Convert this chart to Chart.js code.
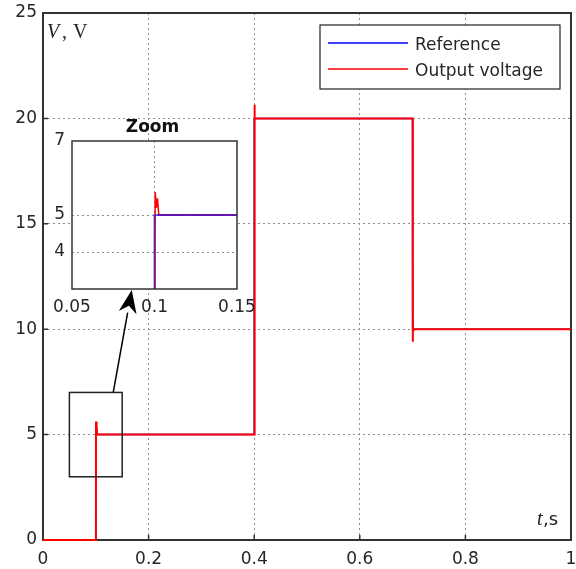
<!DOCTYPE html>
<html><head><meta charset="utf-8">
<script src="https://cdn.jsdelivr.net/npm/chart.js@4"></script>
<style>
html,body{margin:0;padding:0;background:#fff;}
#wrap{position:relative;width:576px;height:569px;overflow:hidden;}
#main{position:absolute;left:0;top:0;}
#inset{position:absolute;left:40px;top:110px;}
</style></head><body>
<div id="wrap"><canvas id="main" width="576" height="569"></canvas><canvas id="inset" width="240" height="300"></canvas></div>
<script>
// ---- data ----
const refT = [0, 0.1, 0.1, 0.4, 0.4, 0.7, 0.7, 1];
const refV = [0, 0, 5, 5, 20, 20, 10, 10];
const outT = [0, 0.1002, 0.1004, 0.1012, 0.1018, 0.1026, 0.4, 0.4003, 0.4006, 0.401, 0.4015, 0.7, 0.7003, 0.7006, 0.701, 0.7015, 1];
const outV = [0, 0, 5.62, 5.2, 5.45, 5, 5, 20.65, 19.9, 20.15, 20, 20, 9.4, 10.3, 9.95, 10, 10];
const seriesNames = ['Reference', 'Output voltage'];
const xTicks = [0, 0.2, 0.4, 0.6, 0.8, 1];
const yTicks = [0, 5, 10, 15, 20, 25];
const zoomX = [0.05, 0.15];
const zoomY = [3, 7];
const insetXTicks = [0.05, 0.1, 0.15];
const insetYTicks = [4, 5, 7];
const arrowFrom = [0.133, 7];     // main-axis coordinates
const arrowTo = [0.0862, 3];      // inset-axis coordinates
const zoomTitle = 'Zoom';

const pts = (t, v) => t.map((x, i) => ({x: x, y: v[i]}));
const FONT = 'DejaVu Sans';
const AXC = '#333333';
const GRIDC = '#8f8f8f';
const TXT = '#262626';

function tickSetter(arr){ return s => { s.ticks = arr.map(v => ({value: v})); }; }
function edgeHide(lo, hi){ return c => (c.tick && (c.tick.value === lo || c.tick.value === hi)) ? 'rgba(0,0,0,0)' : GRIDC; }
function fitX(h){ return s => { s.height = h; s.paddingLeft = 0; s.paddingRight = 0; }; }
function fitY(w){ return s => { s.width = w; s.paddingTop = 0; s.paddingBottom = 0; }; }

const mainDecor = {
  id: 'mainDecor',
  beforeDatasetsDraw(chart){
    const ctx = chart.ctx, a = chart.chartArea, xs = chart.scales.x, ys = chart.scales.y;
    ctx.save();
    ctx.strokeStyle = AXC; ctx.lineWidth = 1.5;
    ctx.beginPath();
    yTicks.forEach(v => { const p = ys.getPixelForValue(v); ctx.moveTo(a.left, p); ctx.lineTo(a.left + 5, p); });
    xTicks.forEach(v => { const p = xs.getPixelForValue(v); ctx.moveTo(p, a.bottom); ctx.lineTo(p, a.bottom - 5); });
    ctx.stroke();
    ctx.lineWidth = 2;
    ctx.strokeRect(a.left, a.top, a.right - a.left, a.bottom - a.top);
    ctx.restore();
  },
  afterDraw(chart){
    const ctx = chart.ctx, a = chart.chartArea, xs = chart.scales.x, ys = chart.scales.y;
    ctx.save();
    // zoom rectangle
    ctx.lineWidth = 1.5; ctx.strokeStyle = '#222';
    const rx0 = xs.getPixelForValue(zoomX[0]), rx1 = xs.getPixelForValue(zoomX[1]);
    const ry0 = ys.getPixelForValue(zoomY[1]), ry1 = ys.getPixelForValue(zoomY[0]);
    ctx.strokeRect(rx0, ry0, rx1 - rx0, ry1 - ry0);
    // axis labels
    ctx.fillStyle = '#222';
    ctx.textBaseline = 'alphabetic'; ctx.textAlign = 'left';
    ctx.font = 'italic 20px "Liberation Serif"';
    ctx.fillText('V', a.left + 4, a.top + 25);
    ctx.font = '20px "Liberation Serif"';
    ctx.fillText(',', a.left + 19, a.top + 25);
    ctx.fillText('V', a.left + 30, a.top + 25);
    ctx.font = 'italic 20px "Liberation Serif"';
    ctx.fillText('t', a.right - 34, a.bottom - 15);
    ctx.font = '18px "' + FONT + '"';
    ctx.fillText(',s', a.right - 28, a.bottom - 15);
    // legend
    const lx = 320, ly = 25, lw = 240, lh = 64;
    ctx.fillStyle = '#fff'; ctx.fillRect(lx, ly, lw, lh);
    ctx.strokeStyle = '#222'; ctx.lineWidth = 1.2; ctx.strokeRect(lx, ly, lw, lh);
    const rows = [43, 69];
    chart.data.datasets.forEach((ds, i) => {
      ctx.strokeStyle = ds.borderColor; ctx.lineWidth = 1.5;
      ctx.beginPath(); ctx.moveTo(328, rows[i]); ctx.lineTo(408, rows[i]); ctx.stroke();
      ctx.fillStyle = TXT; ctx.font = '17px "' + FONT + '"';
      ctx.fillText(ds.label, 415, rows[i] + 7);
    });
    ctx.restore();
  }
};

const mainChart = new Chart(document.getElementById('main'), {
  type: 'scatter',
  data: {
    datasets: [
      {label: seriesNames[0], data: pts(refT, refV), borderColor: '#0000ff', showLine: true, borderWidth: 1.5, pointRadius: 0, order: 1, clip: 3},
      {label: seriesNames[1], data: pts(outT, outV), borderColor: '#ff0000', showLine: true, borderWidth: 2, pointRadius: 0, order: 0, clip: 3}
    ]
  },
  options: {
    responsive: false, animation: false, devicePixelRatio: 1,
    layout: {padding: {top: 13, right: 5, left: 0, bottom: 0}},
    plugins: {legend: {display: false}, tooltip: {enabled: false}},
    elements: {line: {tension: 0}},
    scales: {
      x: {
        type: 'linear', min: 0, max: 1,
        afterBuildTicks: tickSetter(xTicks),
        afterFit: fitX(29),
        ticks: {autoSkip: false, maxRotation: 0, padding: 9, color: TXT, font: {family: FONT, size: 17}, callback: v => String(v)},
        grid: {color: edgeHide(0, 1), drawTicks: false, lineWidth: 1},
        border: {display: false, dash: [2, 3]}
      },
      y: {
        type: 'linear', min: 0, max: 25,
        afterBuildTicks: tickSetter(yTicks),
        afterFit: fitY(43),
        ticks: {autoSkip: false, padding: 6, color: TXT, font: {family: FONT, size: 17}, callback: v => String(v)},
        grid: {color: edgeHide(0, 25), drawTicks: false, lineWidth: 1},
        border: {display: false, dash: [2, 3]}
      }
    }
  },
  plugins: [mainDecor]
});

const insetDecor = {
  id: 'insetDecor',
  beforeDraw(chart){
    const ctx = chart.ctx, a = chart.chartArea;
    ctx.save(); ctx.fillStyle = '#fff';
    ctx.fillRect(a.left, a.top, a.right - a.left, a.bottom - a.top);
    ctx.restore();
  },
  afterDraw(chart){
    const ctx = chart.ctx, a = chart.chartArea;
    ctx.save();
    ctx.strokeStyle = AXC; ctx.lineWidth = 1.5;
    ctx.strokeRect(a.left, a.top, a.right - a.left, a.bottom - a.top);
    ctx.fillStyle = '#111'; ctx.textAlign = 'center'; ctx.textBaseline = 'alphabetic';
    ctx.font = 'bold 17px "' + FONT + '"';
    ctx.fillText(zoomTitle, (a.left + a.right) / 2 - 2, a.top - 9);
    // arrow from main-chart zoom box to inset
    const off = chart.canvas.getBoundingClientRect(), moff = mainChart.canvas.getBoundingClientRect();
    const sx = mainChart.scales.x.getPixelForValue(arrowFrom[0]) + moff.left - off.left;
    const sy = mainChart.scales.y.getPixelForValue(arrowFrom[1]) + moff.top - off.top;
    const tx = chart.scales.x.getPixelForValue(arrowTo[0]);
    const ty = chart.scales.y.getPixelForValue(arrowTo[1]) + 1;
    const ang = Math.atan2(ty - sy, tx - sx);
    const L = 23, W = 9;
    const bx = tx - L * Math.cos(ang), by = ty - L * Math.sin(ang);
    ctx.strokeStyle = '#000'; ctx.lineWidth = 1.5;
    ctx.beginPath(); ctx.moveTo(sx, sy); ctx.lineTo(bx, by); ctx.stroke();
    ctx.fillStyle = '#000';
    ctx.beginPath();
    ctx.moveTo(tx, ty);
    ctx.lineTo(bx + W * Math.sin(ang), by - W * Math.cos(ang));
    ctx.lineTo(tx - (L - 7) * Math.cos(ang), ty - (L - 7) * Math.sin(ang));
    ctx.lineTo(bx - W * Math.sin(ang), by + W * Math.cos(ang));
    ctx.closePath(); ctx.fill();
    ctx.restore();
  }
};

new Chart(document.getElementById('inset'), {
  type: 'scatter',
  data: {
    datasets: [
      {label: seriesNames[0], data: pts(refT, refV), borderColor: 'rgba(0,0,255,0.6)', showLine: true, borderWidth: 2, pointRadius: 0, order: 0},
      {label: seriesNames[1], data: pts(outT, outV), borderColor: '#ff0000', showLine: true, borderWidth: 1.5, pointRadius: 0, order: 1}
    ]
  },
  options: {
    responsive: false, animation: false, devicePixelRatio: 1,
    layout: {padding: {top: 31, right: 43, left: 0, bottom: 91}},
    plugins: {legend: {display: false}, tooltip: {enabled: false}},
    elements: {line: {tension: 0}},
    scales: {
      x: {
        type: 'linear', min: zoomX[0], max: zoomX[1],
        afterBuildTicks: tickSetter(insetXTicks),
        afterFit: fitX(30),
        ticks: {autoSkip: false, maxRotation: 0, padding: 8, color: TXT, font: {family: FONT, size: 17}, callback: v => String(v)},
        grid: {color: edgeHide(zoomX[0], zoomX[1]), drawTicks: false, lineWidth: 1},
        border: {display: false, dash: [2, 3]}
      },
      y: {
        type: 'linear', min: zoomY[0], max: zoomY[1],
        afterBuildTicks: tickSetter(insetYTicks),
        afterFit: fitY(32),
        ticks: {autoSkip: false, padding: 7, color: TXT, font: {family: FONT, size: 17}, callback: v => String(v)},
        grid: {color: edgeHide(zoomY[0], zoomY[1]), drawTicks: false, lineWidth: 1},
        border: {display: false, dash: [2, 3]}
      }
    }
  },
  plugins: [insetDecor]
});
</script>
</body></html>
